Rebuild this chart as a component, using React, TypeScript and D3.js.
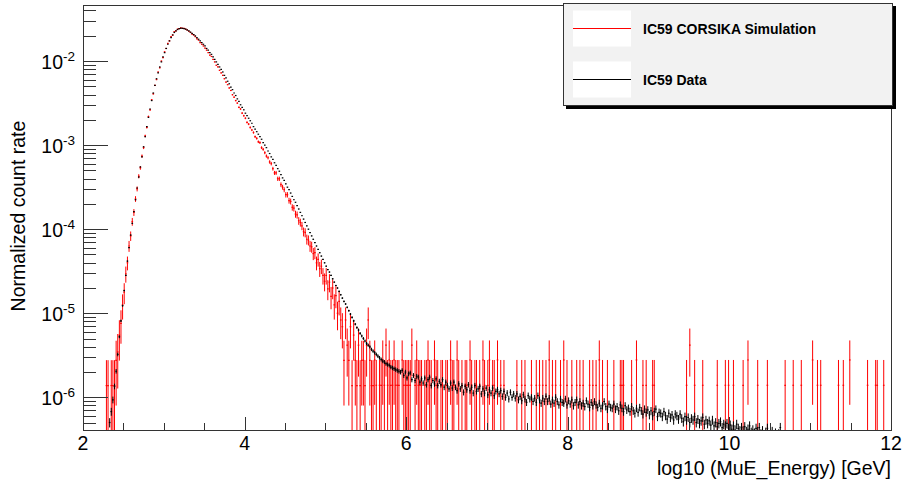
import React from 'react';
import * as d3 from 'd3';

// ---------- data (log10 of normalized count rate per 0.02 bin) ----------
const BIN_WIDTH = 0.02;
const DATA_START = 2.33; // centre of first data bin
const dataRise = [
  -6.30, -6.17, -6.03, -5.87, -5.69, -5.49, -5.28, -5.09, -4.91, -4.73,
  -4.55, -4.38, -4.22, -4.07, -3.93, -3.79, -3.65, -3.51, -3.38, -3.26,
  -3.14, -3.02, -2.90, -2.78, -2.67, -2.57, -2.47, -2.38, -2.29, -2.21,
  -2.14, -2.07, -2.01, -1.95, -1.90, -1.85, -1.80, -1.76, -1.72, -1.69,
  -1.66, -1.64, -1.625, -1.615, -1.61, -1.61, -1.615,
];
const dataFall = [
  -1.62, -1.63, -1.64, -1.655, -1.67, -1.685, -1.70, -1.72, -1.74, -1.76,
  -1.78, -1.80, -1.82, -1.85, -1.87, -1.90, -1.92, -1.95, -1.98, -2.01,
  -2.04, -2.07, -2.10, -2.13, -2.17, -2.20, -2.24, -2.27, -2.31, -2.34,
  -2.38, -2.41, -2.45, -2.48, -2.52, -2.55, -2.58, -2.62, -2.65, -2.68,
  -2.71, -2.74, -2.78, -2.81, -2.84, -2.87, -2.90, -2.93, -2.97, -3.00,
  -3.03, -3.07, -3.10, -3.14, -3.17, -3.21, -3.24, -3.28, -3.31, -3.35,
  -3.39, -3.42, -3.46, -3.50, -3.53, -3.57, -3.61, -3.65, -3.68, -3.72,
  -3.76, -3.80, -3.84, -3.88, -3.92, -3.96, -4.00, -4.04, -4.08, -4.12,
  -4.16, -4.20, -4.24, -4.28, -4.32, -4.36, -4.40, -4.44, -4.48, -4.51,
  -4.55, -4.59, -4.63, -4.67, -4.70, -4.74, -4.78, -4.82, -4.86, -4.89,
  -4.93, -4.97, -5.01, -5.05, -5.09, -5.13, -5.17, -5.20, -5.24, -5.27,
  -5.30, -5.33, -5.36, -5.38, -5.40, -5.43, -5.45, -5.47, -5.49, -5.51,
  -5.53, -5.55, -5.57, -5.58, -5.60, -5.61, -5.62, -5.64, -5.65, -5.66,
  -5.67, -5.68, -5.69, -5.70,
];
const dataTail = [
  -5.68, -5.74, -5.70, -5.77, -5.72, -5.71, -5.79, -5.74, -5.80, -5.75,
  -5.76, -5.82, -5.78, -5.83, -5.77, -5.85, -5.79, -5.76, -5.86, -5.80,
  -5.84, -5.78, -5.86, -5.81, -5.85, -5.79, -5.88, -5.82, -5.86, -5.90,
  -5.83, -5.89, -5.82, -5.88, -5.92, -5.84, -5.90, -5.86, -5.94, -5.87,
  -5.91, -5.85, -5.92, -5.88, -5.95, -5.86, -5.93, -5.90, -5.87, -5.96,
  -5.90, -5.95, -5.89, -5.97, -5.91, -5.95, -5.89, -5.98, -5.93, -5.91,
  -5.96, -5.92, -5.99, -5.93, -6.00, -5.95, -6.02, -5.94, -6.00, -5.96,
  -6.01, -5.96, -6.03, -5.99, -6.04, -5.97, -6.02, -6.06, -5.98, -6.02,
  -6.00, -6.05, -6.01, -6.06, -5.98, -6.03, -6.07, -6.01, -6.05, -5.99,
  -6.05, -6.01, -6.08, -6.03, -6.07, -6.00, -6.05, -6.09, -6.02, -6.06,
  -6.07, -6.02, -6.09, -6.04, -6.08, -6.03, -6.10, -6.06, -6.03, -6.09,
  -6.05, -6.10, -6.07, -6.11, -6.04, -6.08, -6.12, -6.06, -6.10, -6.05,
  -6.09, -6.12, -6.07, -6.13, -6.10, -6.05, -6.11, -6.14, -6.08, -6.12,
  -6.13, -6.08, -6.14, -6.11, -6.16, -6.09, -6.13, -6.17, -6.10, -6.15,
  -6.13, -6.17, -6.11, -6.16, -6.19, -6.13, -6.18, -6.12, -6.16, -6.20,
  -6.14, -6.18, -6.15, -6.21, -6.16, -6.22, -6.17, -6.14, -6.23, -6.18,
  -6.19, -6.23, -6.17, -6.22, -6.26, -6.19, -6.24, -6.21, -6.27, -6.20,
  -6.22, -6.26, -6.20, -6.25, -6.29, -6.23, -6.27, -6.24, -6.30, -6.25,
  -6.27, -6.23, -6.30, -6.26, -6.31, -6.28, -6.24, -6.32, -6.27, -6.31,
  -6.28, -6.33, -6.27, -6.34, -6.30, -6.35, -6.31, -6.29, -6.36, -6.32,
  -6.34, -6.31, -6.37, -6.33, -6.38, -6.34, -6.39, -6.32, -6.37, -6.40,
  -6.36, -6.40, -6.35, -6.41, -6.38, -6.34, -6.42, -6.39, -6.43, -6.37,
  -6.41, -6.36, -6.44, -6.40, -6.45, -6.42, -6.37, -6.46, -6.43, -6.41,
  -6.46, -6.43, -6.48, -6.44, -6.36, -6.50, -6.47, -6.52, -6.45, -6.50,
  -6.55, -6.50, -6.58, -6.53, -6.60, -6.56, -6.63, -6.58, -6.65, -6.61,
];

const SIM_START = 2.29; // centre of first simulation bin
const simRise: (number | null)[] = [
  -5.86, -5.86, null, -5.86, -5.86, -5.86,
  -5.56, -5.46, -5.26, -5.12, -4.90, -4.75, -4.53, -4.40, -4.20, -4.08,
  -3.91, -3.80, -3.64, -3.52, -3.37, -3.27, -3.13, -3.03, -2.89, -2.79,
  -2.66, -2.58, -2.46, -2.39, -2.29, -2.22, -2.13, -2.08, -2.00, -1.96,
  -1.89, -1.85, -1.79, -1.76, -1.71, -1.69, -1.65, -1.64, -1.62, -1.615,
  -1.605, -1.61, -1.61,
];
const simFall: (number | null)[] = [
  -1.62, -1.63, -1.645, -1.66, -1.68, -1.69, -1.71, -1.735, -1.75, -1.78,
  -1.80, -1.82, -1.845, -1.87, -1.90, -1.93, -1.945, -1.98, -2.01, -2.05,
  -2.07, -2.11, -2.14, -2.17, -2.21, -2.25, -2.28, -2.32, -2.35, -2.40,
  -2.43, -2.47, -2.50, -2.55, -2.57, -2.62, -2.65, -2.68, -2.73, -2.75,
  -2.79, -2.82, -2.85, -2.90, -2.92, -2.96, -2.97, -3.03, -3.05, -3.09,
  -3.13, -3.15, -3.20, -3.22, -3.28, -3.33, -3.33, -3.40, -3.40, -3.47,
  -3.50, -3.53, -3.59, -3.59, -3.66, -3.67, -3.74, -3.75, -3.82, -3.83,
  -3.90, -3.92, -3.96, -4.03, -4.04, -4.12, -4.13, -4.20, -4.21, -4.29,
  -4.28, -4.40, -4.36, -4.47, -4.44, -4.55, -4.62, -4.55, -4.71, -4.63,
  -4.80, -4.70, -4.90, -4.79, -5.00, -4.86, -5.08,
];
const simLow: (number | null)[] = [
  -5.16, -5.56, -5.08, -5.38, -5.56, -5.16, -5.86, -5.26, -5.56, -5.86,
  -5.38, -5.86, -5.56, -5.56, -5.86, -5.38, -5.08, -5.56, -5.86, -5.86,
];
// sparse simulation tail: bin centres holding 1, 2 or 3 simulated events
const simTail1 = [
  5.63, 5.67, 5.69, 5.73, 5.77, 5.81, 5.83, 5.87, 5.89, 5.91, 5.97, 5.99, 6.01,
  6.03, 6.05, 6.11, 6.15, 6.17, 6.19, 6.23, 6.25, 6.29, 6.31, 6.37, 6.39, 6.43,
  6.45, 6.49, 6.51, 6.57, 6.59, 6.65, 6.69, 6.73, 6.75, 6.81, 6.85, 6.87, 6.91,
  6.97, 7.01, 7.07, 7.09, 7.17, 7.21, 7.37, 7.43, 7.47, 7.55, 7.61, 7.65, 7.69,
  7.73, 7.81, 7.85, 7.91, 7.99, 8.05, 8.11, 8.15, 8.19, 8.27, 8.31, 8.35, 8.43,
  8.49, 8.57, 8.65, 8.67, 8.69, 8.79, 8.93, 8.97, 9.05, 9.07, 9.47, 9.57, 9.67,
  9.85, 9.95, 9.99, 10.05, 10.17, 10.35, 10.47, 10.69, 10.79, 10.89, 11.09,
  11.13, 11.35, 11.41, 11.71, 11.81, 11.83, 11.91,
];
const simTail2 = [
  5.61, 5.71, 5.79, 5.85, 5.95, 6.13, 6.27, 6.35, 6.55, 6.63, 6.79, 6.95, 7.03,
  7.13, 7.77, 7.95, 8.39, 8.85, 10.23, 11.03, 11.49,
];
const simTail3 = [5.75, 6.07, 9.51];

const SIM_UNIT = 1.39e-6; // weight of one simulated event
const DATA_UNIT = 8e-9; // weight of one data event

const xTickValues = [2, 4, 6, 8, 10, 12];
const yDecades = [-6, -5, -4, -3, -2];
const legendLabels = ['IC59 CORSIKA Simulation', 'IC59 Data'];
const legendColors = ['#ff0000', '#000000'];
const xTitle = 'log10 (MuE_Energy) [GeV]';
const yTitle = 'Normalized count rate';

// ---------- layout ----------
const W = 902;
const H = 481;
const L = 83;
const R = 891;
const T = 5;
const B = 430;
const FONT = "'Liberation Sans', Arial, Helvetica, sans-serif";

type Bin = { c: number; v: number };

export default function App() {
  const x = d3.scaleLinear().domain([2, 12]).range([L, R]);
  const y = d3.scaleLog().domain([Math.pow(10, -6.389), Math.pow(10, -1.333)]).range([B, T]);

  const dataBins: Bin[] = [...dataRise, ...dataFall, ...dataTail].map((l, i) => ({
    c: DATA_START + i * BIN_WIDTH,
    v: Math.pow(10, l),
  }));
  const simBins: Bin[] = [];
  [...simRise, ...simFall, ...simLow].forEach((l, i) => {
    if (l !== null) simBins.push({ c: SIM_START + i * BIN_WIDTH, v: Math.pow(10, l) });
  });
  simTail1.forEach((c) => simBins.push({ c, v: SIM_UNIT }));
  simTail2.forEach((c) => simBins.push({ c, v: 2 * SIM_UNIT }));
  simTail3.forEach((c) => simBins.push({ c, v: 3 * SIM_UNIT }));

  const yy = (v: number) => (v <= 0 ? B + 20 : y(v));

  const renderBins = (bins: Bin[], unit: number, color: string, key: string) =>
    bins.map((b, i) => {
      const e = Math.sqrt(b.v * unit);
      const xc = x(b.c);
      const x0 = x(b.c - BIN_WIDTH / 2);
      const x1 = x(b.c + BIN_WIDTH / 2);
      const yc = y(b.v);
      return (
        <g key={key + i}>
          <line x1={xc} x2={xc} y1={yy(b.v + e)} y2={yy(b.v - e)} stroke={color} strokeWidth={1} />
          <line x1={x0} x2={x1} y1={yc} y2={yc} stroke={color} strokeWidth={1.2} />
        </g>
      );
    });

  const yMinor: number[] = [];
  for (let d = -7; d <= -2; d++) {
    for (let k = 2; k <= 9; k++) {
      const v = k * Math.pow(10, d);
      if (v > y.domain()[0] && v < y.domain()[1]) yMinor.push(v);
    }
  }
  const xMinor = d3.range(2, 12.001, 0.5).filter((v) => Math.abs(v % 2) > 0.01);

  const axisColor = '#333';

  return (
    <svg
      width={W}
      height={H}
      style={{ position: 'absolute', left: 0, top: 0, background: '#fff' }}
      fontFamily={FONT}
    >
      <rect x={0} y={0} width={W} height={H} fill="#fff" />
      <defs>
        <clipPath id="frameClip">
          <rect x={L} y={T} width={R - L} height={B - T} />
        </clipPath>
      </defs>

      <g clipPath="url(#frameClip)">
        {renderBins(simBins, SIM_UNIT, '#ff0000', 's')}
        {renderBins(dataBins, DATA_UNIT, '#000000', 'd')}
      </g>

      {/* frame */}
      <rect x={L + 0.5} y={T + 0.5} width={R - L} height={B - T} fill="none" stroke={axisColor} strokeWidth={1} />

      {/* y ticks */}
      {yDecades.map((d) => {
        const ty = Math.round(y(Math.pow(10, d))) + 0.5;
        return (
          <g key={'yd' + d}>
            <line x1={L} x2={L + 25} y1={ty} y2={ty} stroke={axisColor} />
            <text x={75} y={ty + 7} textAnchor="end" fontSize={19.5} fill="#000">
              <tspan>10</tspan>
              <tspan dy={-8} fontSize={13.5}>{String(d)}</tspan>
            </text>
          </g>
        );
      })}
      {yMinor.map((v, i) => {
        const ty = Math.round(y(v)) + 0.5;
        return <line key={'ym' + i} x1={L} x2={L + 13} y1={ty} y2={ty} stroke={axisColor} />;
      })}

      {/* x ticks */}
      {xTickValues.map((v) => {
        const tx = Math.round(x(v)) + 0.5;
        return (
          <g key={'xt' + v}>
            <line x1={tx} x2={tx} y1={B} y2={B - 13} stroke={axisColor} />
            <text x={x(v)} y={450} textAnchor="middle" fontSize={19.5} fill="#000">
              {String(v)}
            </text>
          </g>
        );
      })}
      {xMinor.map((v, i) => {
        const tx = Math.round(x(v)) + 0.5;
        return <line key={'xm' + i} x1={tx} x2={tx} y1={B} y2={B - 7} stroke={axisColor} />;
      })}

      {/* axis titles */}
      <text x={R} y={475} textAnchor="end" fontSize={19.5} fill="#000">
        {xTitle}
      </text>
      <text transform="translate(25,216) rotate(-90)" textAnchor="middle" fontSize={19.5} fill="#000">
        {yTitle}
      </text>

      {/* legend */}
      <g>
        <rect x={566} y={6} width={330} height={103} fill="#000" />
        <rect x={563.5} y={3.5} width={329} height={102} fill="#f2f2f2" stroke="#333" strokeWidth={1} />
        {legendLabels.map((lab, i) => {
          const cy = i === 0 ? 28.5 : 79.5;
          return (
            <g key={'lg' + i}>
              <rect x={573} y={cy - 18} width={58} height={36} fill="#fff" />
              <line x1={573} x2={631} y1={cy} y2={cy} stroke={legendColors[i]} strokeWidth={1} />
              <text x={643} y={cy + 5.5} fontSize={14} fontWeight="bold" fill="#000">
                {lab}
              </text>
            </g>
          );
        })}
      </g>
    </svg>
  );
}
